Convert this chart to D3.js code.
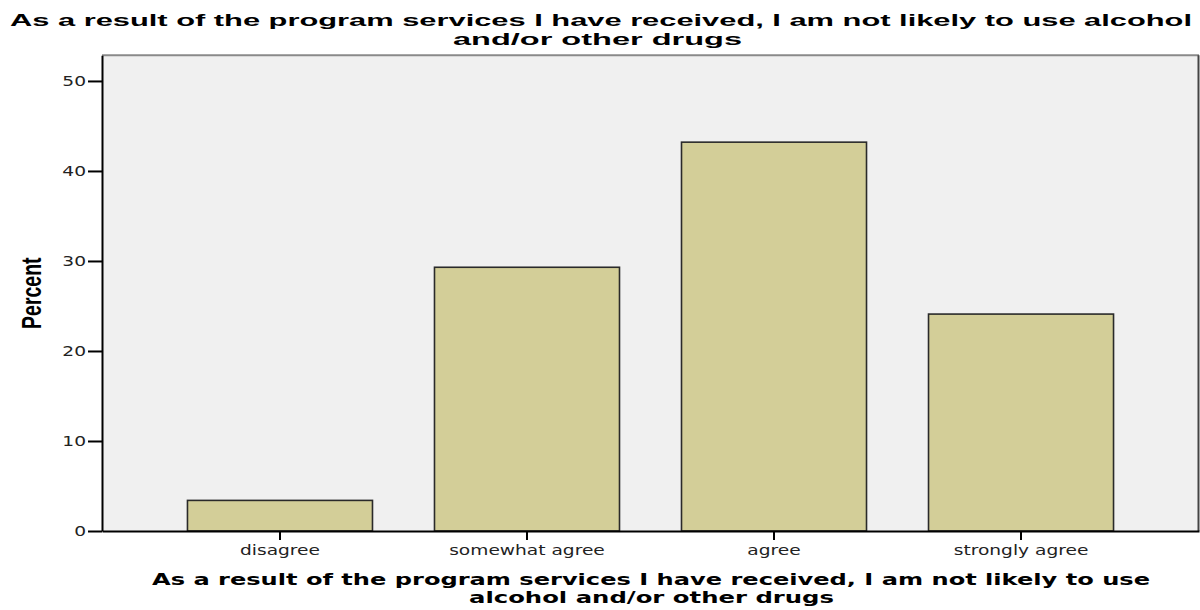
<!DOCTYPE html>
<html>
<head>
<meta charset="utf-8">
<script src="https://cdn.jsdelivr.net/npm/d3@7"></script>
<style>
  html, body { margin: 0; padding: 0; background: #ffffff; }
  svg { display: block; }
</style>
</head>
<body>
<svg id="chart" width="1200" height="610"></svg>
<script>
// ---- data ----
const categories = ["disagree", "somewhat agree", "agree", "strongly agree"];
const percents = [3.4, 29.3, 43.2, 24.1];
const yTicks = [0, 10, 20, 30, 40, 50];
const titleLines = ["As a result of the program services I have received, I am not likely to use alcohol", "and/or other drugs"];
const xTitleLines = ["As a result of the program services I have received, I am not likely to use", "alcohol and/or other drugs"];
const yTitle = "Percent";

// ---- layout ----
const plot = { left: 102, right: 1199, top: 55.3, bottom: 531 };
const SX = 1.38; // horizontal stretch of the original rendering

const svg = d3.select("#chart");

const x = d3.scaleBand()
  .domain(categories)
  .range([plot.left, plot.right])
  .paddingInner(0.251)
  .paddingOuter(0.346);

const y = d3.scaleLinear()
  .domain([0, 52.85])
  .range([plot.bottom, plot.top]);

// plot background + frame
svg.append("rect")
  .attr("x", plot.left).attr("y", plot.top)
  .attr("width", plot.right - plot.left).attr("height", plot.bottom - plot.top)
  .attr("fill", "#f0f0f0").attr("stroke", "none");
svg.append("line")
  .attr("x1", plot.left).attr("x2", plot.right)
  .attr("y1", plot.top).attr("y2", plot.top)
  .attr("stroke", "#8a8a8a").attr("stroke-width", 2);
svg.append("line")
  .attr("x1", plot.right - 0.5).attr("x2", plot.right - 0.5)
  .attr("y1", plot.top).attr("y2", plot.bottom)
  .attr("stroke", "#444").attr("stroke-width", 2);

// bars
svg.append("g").selectAll("rect")
  .data(categories.map((c, i) => ({ c, v: percents[i] })))
  .join("rect")
  .attr("x", d => x(d.c))
  .attr("y", d => y(d.v))
  .attr("width", x.bandwidth())
  .attr("height", d => y(0) - y(d.v))
  .attr("fill", "#d3ce98")
  .attr("stroke", "#2a2a2a")
  .attr("stroke-width", 1.6);

// x axis
const gx = svg.append("g")
  .attr("transform", `translate(0,${plot.bottom})`)
  .call(d3.axisBottom(x).tickSize(9).tickSizeOuter(0));
gx.select(".domain").attr("stroke", "#000").attr("stroke-width", 2);
gx.selectAll(".tick line").attr("stroke", "#000").attr("stroke-width", 2);
gx.selectAll(".tick text")
  .attr("y", 24).attr("dy", 0)
  .attr("transform", `scale(${SX},1)`)
  .attr("fill", "#222")
  .style("font-family", "'DejaVu Sans', Verdana, sans-serif")
  .style("font-size", "13.5px");

// y axis
const gy = svg.append("g")
  .attr("transform", `translate(${plot.left},0)`)
  .call(d3.axisLeft(y).tickValues(yTicks).tickSize(14).tickSizeOuter(0).tickFormat(d3.format("d")));
gy.select(".domain").attr("stroke", "#000").attr("stroke-width", 2);
gy.selectAll(".tick line").attr("stroke", "#000").attr("stroke-width", 2);
gy.selectAll(".tick text")
  .attr("x", 0).attr("dy", "0.34em")
  .attr("transform", `translate(-16,0) scale(${SX},1)`)
  .attr("fill", "#222")
  .style("font-family", "'DejaVu Sans', Verdana, sans-serif")
  .style("font-size", "13.5px");
svg.selectAll(".tick text").attr("font-family", null).attr("font-size", null);

// chart title
const titleSpans = [[10, 1192, 25.5], [453, 742, 44.5]];
titleLines.forEach((t, i) => {
  const [a, b, base] = titleSpans[i];
  svg.append("text")
    .attr("x", a).attr("y", base)
    .attr("textLength", b - a).attr("lengthAdjust", "spacingAndGlyphs")
    .attr("fill", "#000")
    .style("font-family", "'Liberation Sans', Arial, sans-serif")
    .style("font-weight", "bold")
    .style("font-size", "17px")
    .text(t);
});

// x axis title
const xTitleSpans = [[152, 1150, 585], [469, 834, 603]];
xTitleLines.forEach((t, i) => {
  const [a, b, base] = xTitleSpans[i];
  svg.append("text")
    .attr("x", a).attr("y", base)
    .attr("textLength", b - a).attr("lengthAdjust", "spacingAndGlyphs")
    .attr("fill", "#000")
    .style("font-family", "'DejaVu Sans', Verdana, sans-serif")
    .style("font-weight", "bold")
    .style("font-size", "15.5px")
    .text(t);
});

// y axis title
svg.append("text")
  .attr("transform", `translate(40.5,${(plot.top + plot.bottom) / 2}) scale(${SX},1) rotate(-90)`)
  .attr("text-anchor", "middle")
  .attr("fill", "#000")
  .style("font-family", "'Liberation Sans', Arial, sans-serif")
  .style("font-weight", "bold")
  .style("font-size", "19.5px")
  .text(yTitle);
</script>
</body>
</html>
